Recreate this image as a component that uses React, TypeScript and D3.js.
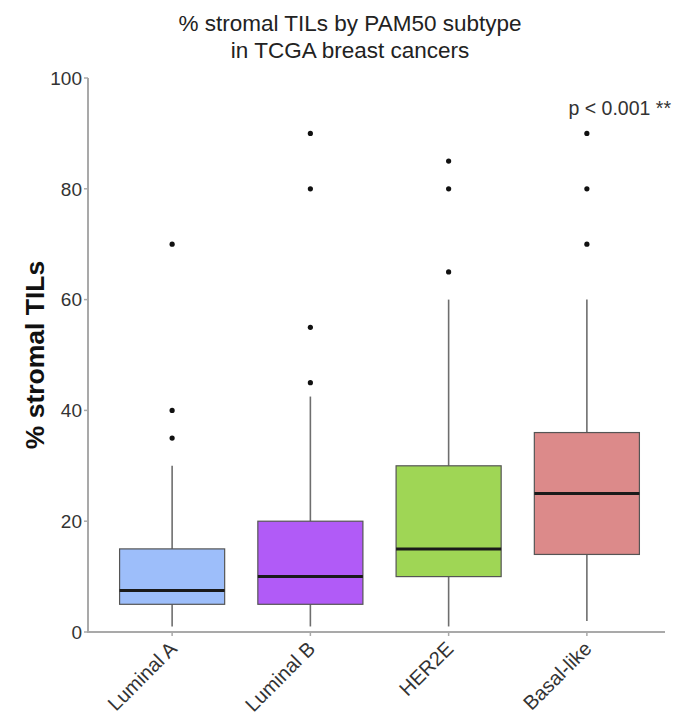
import React from "react";
import * as d3 from "d3";

const subtypes = ["Luminal A", "Luminal B", "HER2E", "Basal-like"];
const fills = ["#9dbefa", "#b15bf7", "#9fd655", "#dc8a8a"];
const lowerWhisker = [1, 1, 1, 2];
const q1 = [5, 5, 10, 14];
const median = [7.5, 10, 15, 25];
const q3 = [15, 20, 30, 36];
const upperWhisker = [30, 42.5, 60, 60];
const outliers = [
  [35, 40, 70],
  [45, 55, 80, 90],
  [65, 80, 85],
  [70, 80, 90],
];
const yTicks = [0, 20, 40, 60, 80, 100];

const W = 677;
const H = 720;
const FONT = "Liberation Sans, Arial, sans-serif";

export default function App() {
  const x = d3.scaleBand<string>().domain(subtypes).range([103, 656]).padding(0);
  const y = d3.scaleLinear().domain([0, 100]).range([632, 78]);
  const boxW = x.step() * 0.76;
  const axisLeft = 88;
  const axisRight = 665;

  return (
    <svg width={W} height={H} style={{ display: "block", position: "absolute", left: 0, top: 0, background: "#fff" }}>
      <rect width={W} height={H} fill="#fff" />
      <text x={350} y={31} textAnchor="middle" fontFamily={FONT} fontSize={22.5} fill="#222">
        % stromal TILs by PAM50 subtype
      </text>
      <text x={350} y={58} textAnchor="middle" fontFamily={FONT} fontSize={22.5} fill="#222">
        in TCGA breast cancers
      </text>

      {/* axes */}
      <line x1={axisLeft} x2={axisLeft} y1={y(100)} y2={y(0) + 1} stroke="#a9a9a9" strokeWidth={2} />
      <line x1={axisLeft - 1} x2={axisRight} y1={y(0)} y2={y(0)} stroke="#a9a9a9" strokeWidth={2} />
      {yTicks.map((t) => (
        <g key={t}>
          <line x1={axisLeft - 4} x2={axisLeft} y1={y(t)} y2={y(t)} stroke="#a9a9a9" strokeWidth={1.5} />
          <text x={axisLeft - 6} y={y(t)} dy="0.36em" textAnchor="end" fontFamily={FONT} fontSize={19} fill="#333">
            {t}
          </text>
        </g>
      ))}
      <text
        transform={`translate(44,${(y(0) + y(100)) / 2}) rotate(-90)`}
        textAnchor="middle"
        fontFamily={FONT}
        fontSize={26.5}
        fontWeight="bold"
        fill="#111"
      >
        % stromal TILs
      </text>

      {subtypes.map((s, i) => {
        const cx = (x(s) as number) + x.bandwidth() / 2;
        return (
          <g key={s}>
            <line x1={cx} x2={cx} y1={y(0)} y2={y(0) + 4} stroke="#a9a9a9" strokeWidth={1.5} />
            <text
              transform={`translate(${cx + 6},${y(0) + 18}) rotate(-45)`}
              textAnchor="end"
              fontFamily={FONT}
              fontSize={20}
              fill="#333"
            >
              {s}
            </text>
            <line x1={cx} x2={cx} y1={y(lowerWhisker[i])} y2={y(q1[i])} stroke="#6e6e6e" strokeWidth={1.6} />
            <line x1={cx} x2={cx} y1={y(q3[i])} y2={y(upperWhisker[i])} stroke="#6e6e6e" strokeWidth={1.6} />
            <rect
              x={cx - boxW / 2}
              y={y(q3[i])}
              width={boxW}
              height={y(q1[i]) - y(q3[i])}
              fill={fills[i]}
              stroke="#555"
              strokeWidth={1.2}
            />
            <line x1={cx - boxW / 2} x2={cx + boxW / 2} y1={y(median[i])} y2={y(median[i])} stroke="#1a1a1a" strokeWidth={3} />
            {outliers[i].map((v, j) => (
              <circle key={j} cx={cx} cy={y(v)} r={2.6} fill="#111" />
            ))}
          </g>
        );
      })}

      <text x={671} y={115} textAnchor="end" fontFamily={FONT} fontSize={19.5} fill="#333">
        p &lt; 0.001 **
      </text>
    </svg>
  );
}
